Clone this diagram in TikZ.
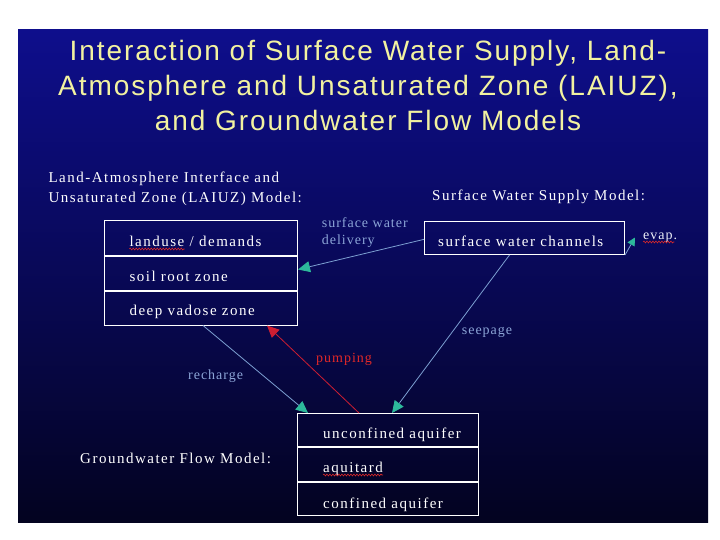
\documentclass[tikz,border=0pt]{standalone}
\usepackage{fontspec}
\setmainfont{Liberation Serif}
\newfontfamily\ttlfont{Liberation Sans}[LetterSpace=7]
\newfontfamily\lblfont{Liberation Serif}[LetterSpace=10]
\newfontfamily\smlfont{Liberation Serif}[LetterSpace=7]
\usetikzlibrary{arrows.meta,calc,decorations.pathmorphing}
\definecolor{bgtop}{RGB}{14,14,140}
\definecolor{bgmid}{RGB}{8,8,78}
\definecolor{bgbot}{RGB}{3,3,32}
\definecolor{ttlcol}{RGB}{242,242,160}
\definecolor{flowline}{RGB}{125,160,210}
\definecolor{tipteal}{RGB}{45,185,155}
\definecolor{lblblue}{RGB}{140,165,215}
\definecolor{pumpred}{RGB}{205,30,50}
\definecolor{pumptxt}{RGB}{225,40,40}
\definecolor{squig}{RGB}{220,40,40}
\begin{document}
\begin{tikzpicture}[x=1pt,y=-1pt,
  row/.style={draw=white, line width=1pt, inner sep=0pt},
  boxtxt/.style={text=white, inner sep=0pt, font=\lblfont\fontsize{15}{18}\selectfont, anchor=base west},
  head/.style={text=white, inner sep=0pt, font=\lblfont\fontsize{15}{18}\selectfont, anchor=base west},
  lbl/.style={text=lblblue, inner sep=0pt, font=\smlfont\fontsize{14}{17}\selectfont, anchor=base west},
  ttl/.style={text=ttlcol, inner sep=0pt, font=\ttlfont\fontsize{28}{32}\selectfont, anchor=base},
  flow/.style={draw=flowline, line width=0.8pt, -{Triangle[length=12pt,width=11pt,color=tipteal]}},
  flowsmall/.style={draw=flowline, line width=0.8pt, -{Triangle[length=8pt,width=8pt,color=tipteal]}},
  pump/.style={draw=pumpred, line width=0.8pt, -{Triangle[length=12pt,width=11pt,color=pumpred]}},
  wavy/.style={draw=squig, line width=0.6pt, decorate, decoration={snake, amplitude=0.9pt, segment length=3pt}}]
\useasboundingbox[fill=white] (0,0) rectangle (720,540);
\shade[top color=bgtop, middle color=bgmid, bottom color=bgbot] (18,30) rectangle (708,522);

% title
\node[ttl] (t1) at (368,61) {Interaction of Surface Water Supply, Land-};
\node[ttl] (t2) at (368,95.5) {Atmosphere and Unsaturated Zone (LAIUZ),};
\node[ttl] (t3) at (368,131) {and Groundwater Flow Models};

% headings
\node[head] (h1a) at (48.3,183) {Land-Atmosphere Interface and};
\node[head] (h1b) at (48.3,203) {Unsaturated Zone (LAIUZ) Model:};
\node[head] (h2) at (432,200.5) {Surface Water Supply Model:};
\node[head] (h3) at (80,463) {Groundwater Flow Model:};

% LAIUZ box
\node[row, minimum width=193pt, minimum height=34pt, anchor=north west] (lu) at (104,220.5) {};
\node[row, minimum width=193pt, minimum height=34pt, anchor=north west] (sr) at (lu.south west) {};
\node[row, minimum width=193pt, minimum height=34pt, anchor=north west] (dv) at (sr.south west) {};
\node[boxtxt] (lut) at ($(lu.south west)+(25.3,-9.5)$) {landuse};
\node[boxtxt] (lut2) at ($(lut.base east)+(5,0)$) {/ demands};
\node[boxtxt] (srt) at ($(sr.south west)+(25.3,-9.5)$) {soil root zone};
\node[boxtxt] (dvt) at ($(dv.south west)+(25.3,-10.5)$) {deep vadose zone};

% surface water box
\node[row, minimum width=200pt, minimum height=33.3pt, anchor=north west] (swc) at (424,220.7) {};
\node[boxtxt] (swct) at ($(swc.south west)+(14,-8.3)$) {surface water channels};

% groundwater box
\node[row, minimum width=181pt, minimum height=33.3pt, anchor=north west] (uc) at (297,413) {};
\node[row, minimum width=181pt, minimum height=33.3pt, anchor=north west] (aq) at (uc.south west) {};
\node[row, minimum width=181pt, minimum height=33.3pt, anchor=north west] (cf) at (aq.south west) {};
\node[boxtxt] (uct) at ($(uc.south west)+(26,-8.6)$) {unconfined aquifer};
\node[boxtxt] (aqt) at ($(aq.south west)+(26,-9.6)$) {aquitard};
\node[boxtxt] (cft) at ($(cf.south west)+(26,-7.5)$) {confined aquifer};

% connector labels
\node[lbl] (dl1) at (321.7,227) {surface water};
\node[lbl] (dl2) at (321.7,244.5) {delivery};
\node[lbl] (sp) at (461.7,334) {seepage};
\node[lbl] (rc) at (188,379) {recharge};
\node[lbl, text=pumptxt] (pm) at (316,362.7) {pumping};
\node[lbl, text=white!85!lblblue] (ev) at (643,239.5) {evap.};

% spelling squiggles
\draw[wavy] ($(lut.base west)+(0,3)$) -- ($(lut.base east)+(0,3)$);
\draw[wavy] ($(aqt.base west)+(0,3)$) -- ($(aqt.base east)+(0,3)$);
\draw[wavy] ($(ev.base west)+(0,2.5)$) -- ($(ev.base east)+(-3,2.5)$);

% connectors
\coordinate (evend) at (635,237.5);
\draw[flow] ($(swc.west)+(0,1.5)$) -- ($(sr.east)+(0,-3.5)$);
\draw[flowsmall] (swc.south east) -- (evend);
\draw[flow] ($(swc.south)+(-15,0)$) -- ($(uc.north)+(4,0)$);
\draw[flow] ($(dv.south)+(2,0)$) -- ($(uc.north west)+(11,0)$);
\draw[pump] ($(uc.north)+(-29,0)$) -- ($(dv.south)+(66,0)$);
\end{tikzpicture}
\end{document}
